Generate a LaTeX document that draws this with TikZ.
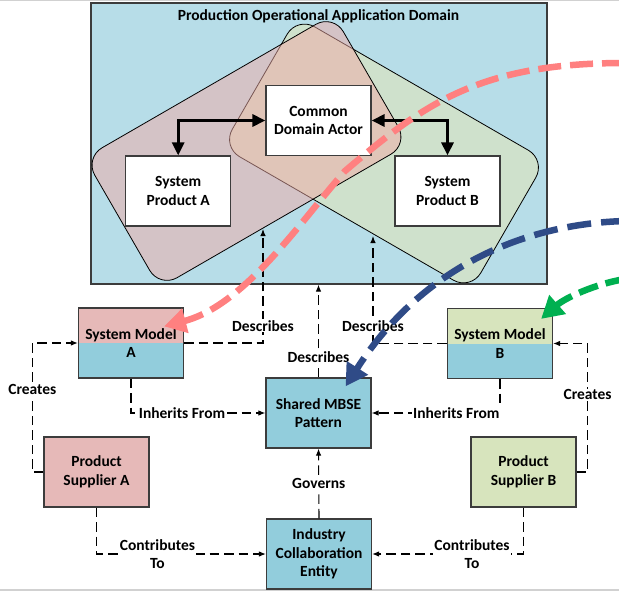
\documentclass[tikz,border=0pt]{standalone}
\usepackage{fontspec}
\setmainfont{Carlito}
\usetikzlibrary{arrows.meta,calc}

\definecolor{domainblue}{RGB}{183,221,232}
\definecolor{boxblue}{RGB}{146,205,220}
\definecolor{boxpink}{RGB}{230,185,184}
\definecolor{boxgreen}{RGB}{215,228,189}
\definecolor{zonegreen}{RGB}{207,225,204}
\definecolor{zonepink}{RGB}{241,171,166}
\definecolor{flowpink}{RGB}{255,128,128}
\definecolor{flownavy}{RGB}{47,75,135}
\definecolor{flowgreen}{RGB}{0,176,80}
\definecolor{edge}{RGB}{60,60,60}

\tikzset{
  txt/.style={font=\fontsize{15.5}{18.5}\selectfont\bfseries, align=center},
  box/.style={txt, draw=edge, line width=1.2pt, minimum width=105pt, minimum height=70pt, inner sep=0pt},
  zone/.style={draw=black, line width=0.8pt, rounded corners=20pt, minimum width=287pt, minimum height=150pt, inner sep=0pt},
  link/.style={draw=black, line width=1.1pt, dash pattern=on 9.5pt off 5pt, -{Latex[length=7pt,width=5.5pt]}},
  lbl/.style={txt, fill=white, inner sep=1pt, text=black},
  bold arrow/.style={line width=3pt, {Triangle[length=13pt,width=12pt]}-{Triangle[length=13pt,width=12pt]}},
  flow/.style={line width=6.5pt, dash pattern=on 23pt off 9pt, -{Triangle[length=22pt,width=24pt]}},
  split top/.style={path picture={\fill[#1] (path picture bounding box.north west) rectangle (path picture bounding box.east);}},
}

\begin{document}
\begin{tikzpicture}[x=1pt,y=-1pt]
\useasboundingbox (0,0) rectangle (619,591);

% page rules
\draw[black!18, line width=1.5pt] (0,0.75) -- (619,0.75);
\draw[black!18, line width=1.5pt] (0,590) -- (619,590);

% operational domain
\node[draw=edge, line width=1.2pt, fill=domainblue, minimum width=456pt, minimum height=281pt, inner sep=0pt] (domain) at (319,143.5) {};
\node[txt] (title) at (318.5,16) {Production Operational Application Domain};

% overlapping product zones
\node[zone, fill=zonegreen, rotate=-30] (zoneB) at (384,153.5) {};
\node[zone, fill=zonepink, fill opacity=0.5, rotate=30] (zoneA) at (246.5,151) {};

% domain actors
\node[box, fill=white] (common) at (318.5,120.5) {Common\\Domain Actor};
\node[box, fill=white] (spA) at (178.2,191) {System\\Product A};
\node[box, fill=white] (spB) at (447.5,191) {System\\Product B};
\draw[bold arrow] (spA.north) |- (common.west);
\draw[bold arrow] (spB.north) |- (common.east);

% model and organisation boxes
\node[box, fill=boxblue, split top=boxpink] (smA) at (131,343) {System Model\\A};
\node[box, fill=boxblue, split top=boxgreen] (smB) at (500,343.5) {System Model\\B};
\node[box, fill=boxblue] (shared) at (318.5,413) {Shared MBSE\\Pattern};
\node[box, fill=boxpink] (psA) at (96.5,472) {Product\\Supplier A};
\node[box, fill=boxgreen] (psB) at (523.5,472) {Product\\Supplier B};
\node[box, fill=boxblue] (ind) at (319,554) {Industry\\Collaboration\\Entity};

% targets on the zone edges
\coordinate (dA) at (263,229);
\coordinate (dB) at (373,236);

% relations
\draw[link] (psA.west) -- ++(-11,0) |- node[lbl,pos=0.32]{Creates} (smA.west);
\draw[link] (psB.east) -- ++(11,0) |- node[lbl,pos=0.3]{Creates} (smB.east);
\draw[link] (smA.east) -| node[lbl,pos=0.575]{Describes} (dA);
\draw[link] (smB.west) -| node[lbl,pos=0.58]{Describes} (dB);
\draw[link] (shared.north) -- node[lbl,pos=0.22]{Describes} (shared.north |- domain.south);
\draw[link] (smA.south) |- node[lbl,pos=0.69]{Inherits From} (shared.west);
\draw[link] (smB.south) |- node[lbl,pos=0.67]{Inherits From} (shared.east);
\draw[link] (ind.north) -- node[lbl]{Governs} (shared.south);
\draw[link] (psA.south) |- node[lbl,pos=0.68]{Contributes\\To} (ind.west);
\draw[link] (psB.south) |- node[lbl,pos=0.67]{Contributes\\To} (ind.east);

% incoming flows
\coordinate (pinkEnd) at ($(smA.north east)+(-20,19)$);
\coordinate (blueEnd) at ($(shared.north east)+(-26,9)$);
\coordinate (greenEnd) at ($(smB.north east)+(-12,11)$);
\coordinate (pinkStart) at (625,63);
\coordinate (blueStart) at (625,221);
\coordinate (greenStart) at (625,279);

\draw[flow, flowpink] (pinkStart) .. controls (480,63) and (425,103) .. (345,171) .. controls (300,222) and (245,305) .. (pinkEnd);
\draw[flow, flownavy, dash pattern=on 24pt off 10pt] (blueStart) .. controls (520,224) and (420,270) .. (blueEnd);
\draw[flow, flowgreen, dash pattern=on 20pt off 8pt] (greenStart) .. controls (595,284) and (565,298) .. (greenEnd);
\end{tikzpicture}
\end{document}
